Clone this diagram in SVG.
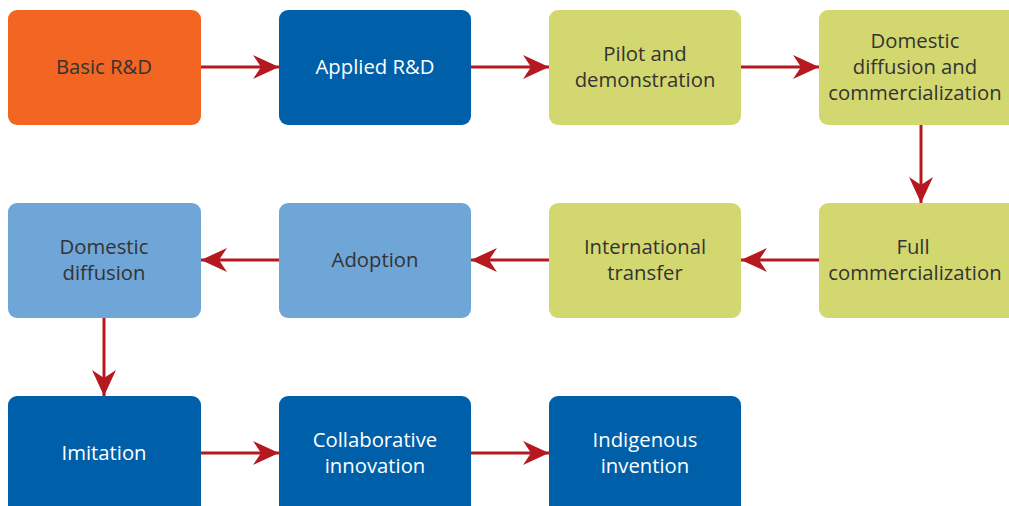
<svg xmlns="http://www.w3.org/2000/svg" width="1009" height="506" viewBox="0 0 1009 506">
<style>
.box{stroke:none}
.t{font-family:"Open Sans","Liberation Sans",sans-serif;font-size:20.3px;text-anchor:middle}
.dk{fill:#333333}
.wt{fill:#ffffff}
.or{fill:#F26522}
.db{fill:#005FA9}
.gr{fill:#D3D770}
.lb{fill:#70A5D7}
.c{stroke:#B5191F;stroke-width:3;fill:none}
</style>
<defs>
<marker id="ah" markerUnits="userSpaceOnUse" markerWidth="30" markerHeight="30" refX="26" refY="12" orient="auto" viewBox="0 0 30 24">
<path d="M26 12 L0 0 L8 12 L0 24 Z" fill="#B5191F"/>
</marker>
</defs>
<g id="n1"><rect class="box or" x="8" y="10" width="193" height="115" rx="9"/><text class="t dk" x="104" y="74">Basic R&amp;D</text></g>
<g id="n2"><rect class="box db" x="279" y="10" width="192" height="115" rx="9"/><text class="t wt" x="375" y="74">Applied R&amp;D</text></g>
<g id="n3"><rect class="box gr" x="549" y="10" width="192" height="115" rx="9"/><text class="t dk" x="645" y="61">Pilot and</text><text class="t dk" x="645" y="87">demonstration</text></g>
<g id="n4"><rect class="box gr" x="819" y="10" width="200" height="115" rx="9"/><text class="t dk" x="915" y="48">Domestic</text><text class="t dk" x="915" y="74">diffusion and</text><text class="t dk" x="915" y="100">commercialization</text></g>
<g id="n5"><rect class="box gr" x="819" y="203" width="200" height="115" rx="9"/><text class="t dk" x="913" y="254">Full</text><text class="t dk" x="915" y="280">commercialization</text></g>
<g id="n6"><rect class="box gr" x="549" y="203" width="192" height="115" rx="9"/><text class="t dk" x="645" y="254">International</text><text class="t dk" x="645" y="280">transfer</text></g>
<g id="n7"><rect class="box lb" x="279" y="203" width="192" height="115" rx="9"/><text class="t dk" x="375" y="267">Adoption</text></g>
<g id="n8"><rect class="box lb" x="8" y="203" width="193" height="115" rx="9"/><text class="t dk" x="104" y="254">Domestic</text><text class="t dk" x="104" y="280">diffusion</text></g>
<g id="n9"><rect class="box db" x="8" y="396" width="193" height="125" rx="9"/><text class="t wt" x="104" y="460">Imitation</text></g>
<g id="n10"><rect class="box db" x="279" y="396" width="192" height="125" rx="9"/><text class="t wt" x="375" y="447">Collaborative</text><text class="t wt" x="375" y="473">innovation</text></g>
<g id="n11"><rect class="box db" x="549" y="396" width="192" height="125" rx="9"/><text class="t wt" x="645" y="447">Indigenous</text><text class="t wt" x="645" y="473">invention</text></g>
<g id="connectors">
<line class="c" x1="201" y1="67" x2="279" y2="67" marker-end="url(#ah)"/>
<line class="c" x1="471" y1="67" x2="549" y2="67" marker-end="url(#ah)"/>
<line class="c" x1="741" y1="67" x2="819" y2="67" marker-end="url(#ah)"/>
<line class="c" x1="921" y1="125" x2="921" y2="203" marker-end="url(#ah)"/>
<line class="c" x1="819" y1="260" x2="741" y2="260" marker-end="url(#ah)"/>
<line class="c" x1="549" y1="260" x2="471" y2="260" marker-end="url(#ah)"/>
<line class="c" x1="279" y1="260" x2="201" y2="260" marker-end="url(#ah)"/>
<line class="c" x1="104" y1="318" x2="104" y2="396" marker-end="url(#ah)"/>
<line class="c" x1="201" y1="453" x2="279" y2="453" marker-end="url(#ah)"/>
<line class="c" x1="471" y1="453" x2="549" y2="453" marker-end="url(#ah)"/>
</g>
</svg>
